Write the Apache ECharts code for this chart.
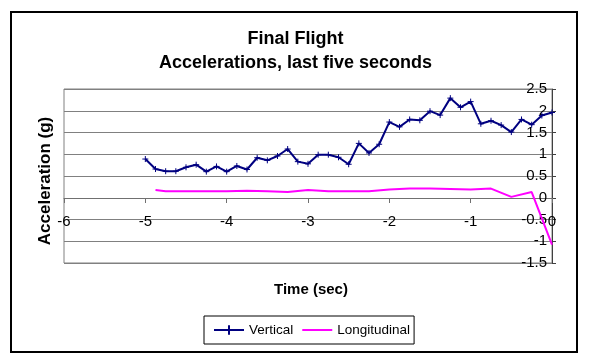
<!DOCTYPE html>
<html><head><meta charset="utf-8">
<script src="https://cdn.jsdelivr.net/npm/echarts@6/dist/echarts.min.js"></script>
<style>html,body{margin:0;padding:0;background:#fff}#c{width:591px;height:361px}</style>
</head><body><div id="c"></div>
<script>
const FONT = 'Liberation Sans, Arial, sans-serif';
const verticalTime = [-5,-4.875,-4.75,-4.625,-4.5,-4.375,-4.25,-4.125,-4,-3.875,-3.75,-3.625,-3.5,-3.375,-3.25,-3.125,-3,-2.875,-2.75,-2.625,-2.5,-2.375,-2.25,-2.125,-2,-1.875,-1.75,-1.625,-1.5,-1.375,-1.25,-1.125,-1,-0.875,-0.75,-0.625,-0.5,-0.375,-0.25,-0.125,0];
const vertical = [0.89,0.66,0.61,0.61,0.70,0.76,0.60,0.72,0.60,0.73,0.65,0.92,0.86,0.96,1.12,0.83,0.78,0.99,0.99,0.93,0.77,1.25,1.03,1.23,1.74,1.63,1.80,1.78,1.99,1.90,2.29,2.08,2.21,1.70,1.77,1.67,1.51,1.80,1.68,1.89,1.96];
const longTime = [-4.875,-4.75,-4.5,-4.25,-4,-3.75,-3.5,-3.25,-3,-2.75,-2.5,-2.25,-2,-1.75,-1.5,-1.25,-1,-0.75,-0.5,-0.25,0];
const longitudinal = [0.18,0.15,0.15,0.15,0.15,0.16,0.15,0.13,0.18,0.15,0.15,0.15,0.19,0.21,0.21,0.20,0.19,0.21,0.02,0.13,-1.08];
const titleText = 'Final Flight\nAccelerations, last five seconds';
const xName = 'Time (sec)';
const yName = 'Acceleration (g)';
const seriesNames = ['Vertical','Longitudinal'];

const chart = echarts.init(document.getElementById('c'));
const plus = 'path://M0,5L10,5M5,0L5,10';
chart.setOption({
  animation: false,
  backgroundColor: '#fff',
  textStyle: {fontFamily: FONT},
  title: {
    text: titleText, left: 'center', top: 22,
    textStyle: {fontFamily: FONT, fontSize: 18, fontWeight: 'bold', color: '#000', lineHeight: 24}
  },
  legend: {
    data: [{name: seriesNames[0]}, {name: seriesNames[1], itemStyle: {opacity: 0}}],
    left: 204, top: 316,
    padding: [7, 4, 7, 9],
    borderColor: '#000', borderWidth: 1,
    itemWidth: 30, itemHeight: 12, itemGap: 8,
    textStyle: {fontFamily: FONT, fontSize: 13.5, color: '#000'}
  },
  grid: {left: 64, right: 39, top: 89, bottom: 98, show: true, borderColor: '#808080', borderWidth: 1},
  xAxis: {
    type: 'value', min: -6, max: 0, interval: 1, offset: -65,
    axisLine: {onZero: false, lineStyle: {color: '#707070', width: 1}},
    axisTick: {show: true, inside: false, length: 5, lineStyle: {color: '#707070'}},
    axisLabel: {margin: 16, fontSize: 15, color: '#000', fontFamily: FONT},
    splitLine: {show: false}
  },
  yAxis: {
    type: 'value', min: -1.5, max: 2.5, interval: 0.5, position: 'right',
    axisLine: {show: true, onZero: false, lineStyle: {color: '#404040', width: 1}},
    axisTick: {show: true, inside: false, length: 4, lineStyle: {color: '#404040'}},
    axisLabel: {inside: true, margin: 5, fontSize: 15, color: '#000', fontFamily: FONT},
    splitLine: {show: true, lineStyle: {color: '#808080', width: 1}}
  },
  graphic: [
    {type: 'rect', shape: {x: 11, y: 12, width: 566, height: 340}, style: {fill: 'none', stroke: '#000', lineWidth: 2}, z: 100},
    {type: 'text', x: 45, y: 181, rotation: Math.PI / 2, style: {text: yName, font: 'bold 17px ' + FONT, fill: '#000', textAlign: 'center', textVerticalAlign: 'middle'}},
    {type: 'text', x: 311, y: 290, style: {text: xName, font: 'bold 15px ' + FONT, fill: '#000', textAlign: 'center', textVerticalAlign: 'middle'}}
  ],
  series: [
    {
      name: seriesNames[0], type: 'line',
      data: verticalTime.map((t, i) => [t, vertical[i]]),
      symbol: plus, symbolSize: 6, showSymbol: true,
      lineStyle: {color: '#000080', width: 2},
      itemStyle: {color: '#000080', borderColor: '#000080', borderWidth: 1}
    },
    {
      name: seriesNames[1], type: 'line',
      data: longTime.map((t, i) => [t, longitudinal[i]]),
      symbol: 'none',
      lineStyle: {color: '#ff00ff', width: 2},
      itemStyle: {color: '#ff00ff'}
    }
  ]
});
</script></body></html>
